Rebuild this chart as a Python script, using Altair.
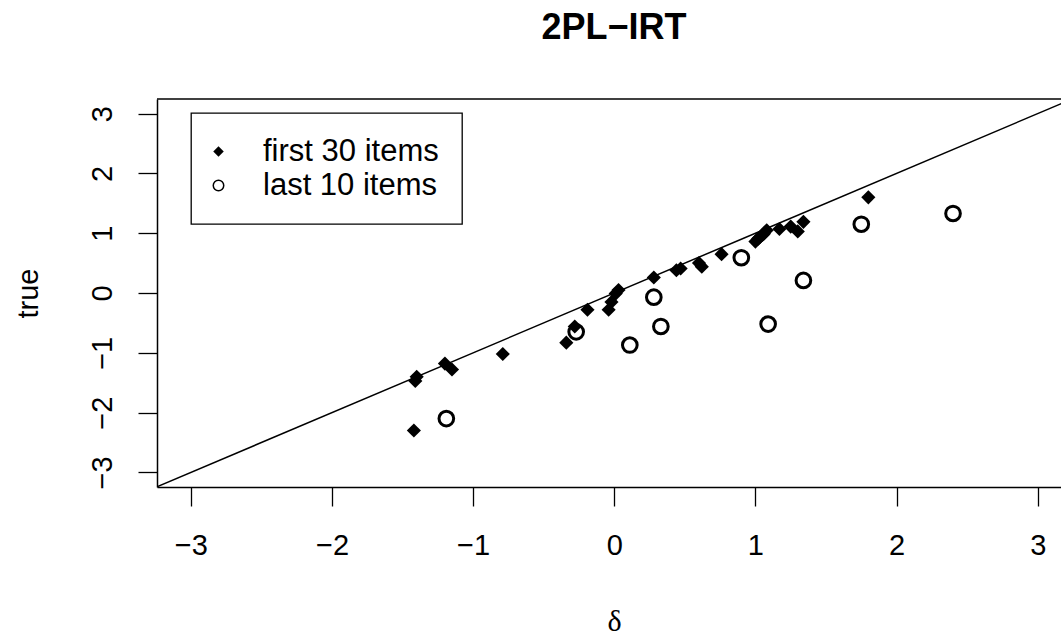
import altair as alt
import pandas as pd

# Estimated item difficulties (delta) against the true values
first_delta = [-1.42, -1.40, -1.41, -1.20, -1.15, -0.79, -0.34, -0.28, -0.19, -0.04,
               -0.02, 0.01, 0.03, 0.28, 0.44, 0.47, 0.60, 0.62, 0.76, 1.00,
               1.02, 1.03, 1.06, 1.08, 1.17, 1.25, 1.30, 1.34, 1.80, 1.05]
first_true = [-2.30, -1.40, -1.47, -1.18, -1.28, -1.02, -0.83, -0.56, -0.28, -0.28,
              -0.15, -0.01, 0.05, 0.26, 0.38, 0.41, 0.50, 0.44, 0.65, 0.86,
              0.91, 0.93, 0.99, 1.05, 1.07, 1.11, 1.03, 1.19, 1.60, 0.97]
last_delta = [-1.19, -0.27, 0.11, 0.28, 0.33, 0.90, 1.09, 1.34, 1.75, 2.40]
last_true = [-2.10, -0.65, -0.87, -0.07, -0.56, 0.59, -0.52, 0.21, 1.15, 1.33]

groups = ["first 30 items", "last 10 items"]
ticks = [-3, -2, -1, 0, 1, 2, 3]
x_lim = [-3.24, 3.165]
y_lim = [-3.244, 3.244]

W, H = 904, 388

pts = pd.DataFrame({
    "delta": first_delta + last_delta,
    "truth": first_true + last_true,
    "group": [groups[0]] * len(first_delta) + [groups[1]] * len(last_delta),
})
# identity line y = x
diag = pd.DataFrame({"delta": [-3.3, 3.3], "truth": [-3.3, 3.3]})

x_enc = alt.X(
    "delta:Q",
    scale=alt.Scale(domain=x_lim, nice=False, zero=False),
    axis=alt.Axis(
        values=ticks, title="δ", labelPadding=39, labelBaseline="middle",
        titleFont="Liberation Serif", titleFontSize=30,
        titleX=457, titleY=134, titleAlign="center", titleBaseline="middle",
    ),
)
y_enc = alt.Y(
    "truth:Q",
    scale=alt.Scale(domain=y_lim, nice=False, zero=False),
    axis=alt.Axis(
        values=ticks, title="true", labelAngle=270, labelAlign="center",
        labelBaseline="middle", labelPadding=36,
        titleFont="Liberation Sans", titleFontSize=29,
        titleAngle=270, titleX=-129, titleY=194, titleAlign="center",
        titleBaseline="middle",
    ),
)

leg = alt.Legend(title=None, orient="none", legendX=34, legendY=14)
shape_enc = alt.Shape("group:N", scale=alt.Scale(domain=groups, range=["diamond", "circle"]), legend=leg)
fill_enc = alt.Fill("group:N", scale=alt.Scale(domain=groups, range=["black", "transparent"]), legend=leg)
stroke_enc = alt.Stroke("group:N", scale=alt.Scale(domain=groups, range=["transparent", "black"]), legend=leg)

line = alt.Chart(diag).mark_line(color="black", strokeWidth=1.5, clip=True).encode(x=x_enc, y=y_enc)

diamonds = (
    alt.Chart(pts)
    .transform_filter(alt.datum.group == groups[0])
    .mark_point(size=200, opacity=1)
    .encode(x=x_enc, y=y_enc, shape=shape_enc, fill=fill_enc, stroke=stroke_enc)
)
circles = (
    alt.Chart(pts)
    .transform_filter(alt.datum.group == groups[1])
    .mark_point(size=215, strokeWidth=3, opacity=1)
    .encode(x=x_enc, y=y_enc, shape=shape_enc, fill=fill_enc, stroke=stroke_enc)
)

# top edge of the plot frame
top_edge = (
    alt.Chart(pd.DataFrame({"k": [0]}))
    .mark_rule(color="black", strokeWidth=1.5)
    .encode(x=alt.value(0), x2=alt.value(W), y=alt.value(0))
)

chart = (
    alt.layer(line, diamonds, circles, top_edge)
    .properties(
        width=W,
        height=H,
        title=alt.TitleParams(
            "2PL−IRT", font="Liberation Sans", fontSize=36, fontWeight="bold",
            color="black", anchor="middle", frame="group", offset=23, dx=5,
            baseline="alphabetic",
        ),
        autosize=alt.AutoSizeParams(type="none"),
        padding={"left": 157, "top": 99, "right": 0, "bottom": 152},
        background="white",
    )
    .configure_view(stroke=None)
    .configure_axis(
        grid=False, domainColor="black", domainWidth=1.5,
        tickColor="black", tickWidth=1.3, tickSize=19,
        labelColor="black", labelFont="Liberation Sans", labelFontSize=29,
        titleColor="black", titleFontWeight="normal",
    )
    .configure_legend(
        strokeColor="black", strokeWidth=1.3, padding=23,
        labelFont="Liberation Sans", labelFontSize=31, labelColor="black",
        labelLimit=400, labelOffset=29, symbolOffset=-11,
        symbolSize=110, symbolStrokeWidth=1.5, rowPadding=2,
    )
)

chart.save("out.html", embed_options={"renderer": "svg", "actions": False})
